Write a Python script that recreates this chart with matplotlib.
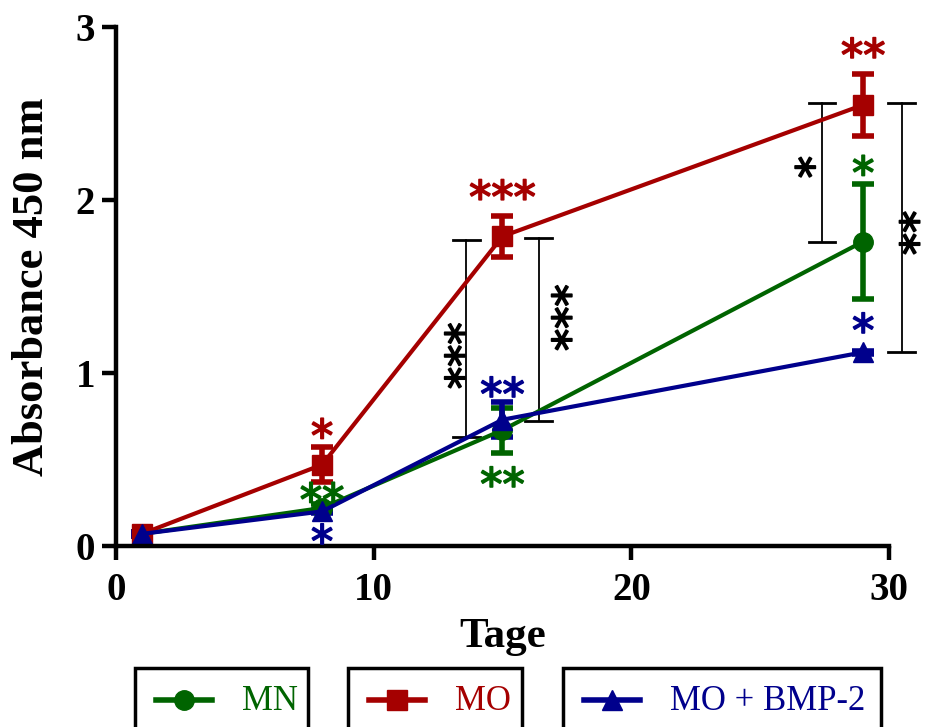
import matplotlib
matplotlib.use("Agg")
import matplotlib.pyplot as plt
import matplotlib.patheffects as pe
from matplotlib.lines import Line2D
from matplotlib.patches import Rectangle

plt.rcParams['font.family'] = ['Liberation Serif', 'DejaVu Serif']

# data
days = [1, 8, 15, 29]
mn_mean = [0.07, 0.22, 0.67, 1.76]
mn_err = [0.01, 0.02, 0.13, 0.33]
mo_mean = [0.07, 0.47, 1.79, 2.55]
mo_err = [0.01, 0.10, 0.12, 0.18]
bmp_mean = [0.07, 0.20, 0.73, 1.12]
bmp_err = [0.01, 0.01, 0.10, 0.01]

green = '#006400'
red = '#A50000'
blue = '#00008C'

series = [
    ('MN', mn_mean, mn_err, green, 'o'),
    ('MO', mo_mean, mo_err, red, 's'),
    ('MO + BMP-2', bmp_mean, bmp_err, blue, '^'),
]

# colored significance stars: (x, y, text, color)
stars = [
    (8, 0.62, '*', red), (8, 0.25, '**', green), (8, 0.01, '*', blue),
    (15, 2.00, '***', red), (15, 0.86, '**', blue), (15, 0.34, '**', green),
    (29, 2.82, '**', red), (29, 2.14, '*', green), (29, 1.23, '*', blue),
]

# black brackets: (x, y_low, y_high, label, label x, label y)
brackets = [
    (13.6, 0.63, 1.77, '***', 13.55, 1.10),
    (16.4, 0.72, 1.78, '***', 17.7, 1.32),
    (27.4, 1.76, 2.56, '*', 27.15, 2.19),
    (30.5, 1.12, 2.56, '**', 31.2, 1.81),
]

fig = plt.figure(figsize=(9.31, 7.27), dpi=100)
ax = fig.add_axes([116/931, 1-546/727, (889-116)/931, (546-27)/727])

for name, m, e, c, mk in series:
    ax.errorbar(days, m, yerr=e, color=c, marker=mk, markersize=14, lw=3,
                elinewidth=4, capsize=8, capthick=4, clip_on=False)

star_kw = dict(fontsize=32, family='DejaVu Sans', clip_on=False)
for x, lo, hi, lab, lx, ly in brackets:
    ax.plot([x, x], [lo, hi], color='black', lw=1.3, clip_on=False)
    for yy in (lo, hi):
        ax.plot([x - 0.52, x + 0.52], [yy, yy], color='black', lw=2, clip_on=False)
    t = ax.text(lx, ly, lab, rotation=90, ha='center', va='center', color='black',
                **star_kw)
    t.set_path_effects([pe.withStroke(linewidth=1.2, foreground='black')])

for x, y, lab, c in stars:
    t = ax.text(x, y, lab, ha='center', va='center', color=c, **star_kw)
    t.set_path_effects([pe.withStroke(linewidth=1.2, foreground=c)])

ax.set_xlim(0, 30)
ax.set_ylim(0, 3)
ax.set_xticks([0, 10, 20, 30])
ax.set_yticks([0, 1, 2, 3])
for s in ['top', 'right']:
    ax.spines[s].set_visible(False)
for s in ['left', 'bottom']:
    ax.spines[s].set_linewidth(3.2)
ax.tick_params(width=3.2, length=10, labelsize=28)
ax.tick_params(axis='x', pad=9)
ax.tick_params(axis='y', pad=5)
for lab in ax.get_xticklabels() + ax.get_yticklabels():
    lab.set_fontweight('bold')
ax.set_xlabel('Tage', fontsize=31, fontweight='bold', labelpad=6)
ax.set_ylabel('Absorbance 450 nm', fontsize=32, fontweight='bold', labelpad=17)

# legend boxes below the axes
boxes = [(135, 308), (348, 522), (563, 881)]
for (x0, x1), (name, m, e, c, mk) in zip(boxes, series):
    fig.add_artist(Rectangle((x0/931, -0.05), (x1-x0)/931, (727-668)/727 + 0.05,
                             transform=fig.transFigure, fill=False, lw=2.5,
                             edgecolor='black'))
    hx = x0 + 21
    fig.add_artist(Line2D([hx/931, (hx+56)/931], [1-700/727]*2, color=c, lw=4,
                          transform=fig.transFigure))
    fig.add_artist(Line2D([(hx+28)/931], [1-700/727], color=c, marker=mk,
                          markersize=14, transform=fig.transFigure))
    fig.text((hx + 86)/931, 1-702/727, name, color=c, fontsize=25, va='center',
             ha='left')

fig.savefig('out.png', dpi=100)
